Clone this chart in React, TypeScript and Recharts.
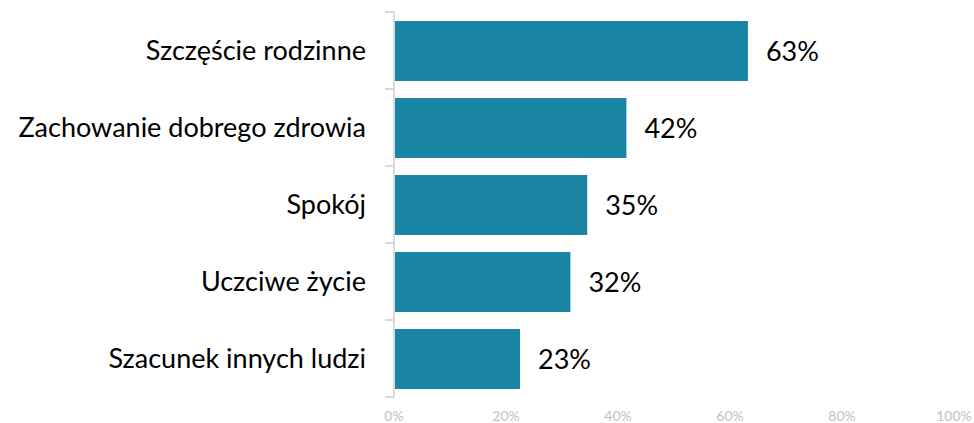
import React from 'react';
import { BarChart, Bar, XAxis, YAxis, LabelList } from 'recharts';

const categories = [
  'Szczęście rodzinne',
  'Zachowanie dobrego zdrowia',
  'Spokój',
  'Uczciwe życie',
  'Szacunek innych ludzi',
];
const values = [63.2, 41.5, 34.5, 31.5, 22.5];
const xTicks = [0, 20, 40, 60, 80, 100];

const data = categories.map((name, i) => ({ name, value: values[i] }));

const FONT = 'Lato, "Open Sans", sans-serif';
const LABEL_GAP = 28;
const TICK_LEN = 9;

function CategoryTick(props: any) {
  const { x, y, payload, index, visibleTicksCount } = props;
  const half = typeof payload?.offset === 'number' && payload.offset > 0 ? payload.offset : 38.5;
  const axisX = x + LABEL_GAP;
  const isLast = index === visibleTicksCount - 1;
  return (
    <g>
      <line x1={axisX - TICK_LEN} x2={axisX} y1={y - half} y2={y - half} stroke="#d9d9d9" strokeWidth={2} />
      {isLast && (
        <line x1={axisX - TICK_LEN} x2={axisX} y1={y + half} y2={y + half} stroke="#d9d9d9" strokeWidth={2} />
      )}
      <text
        x={x}
        y={y}
        dy="0.355em"
        textAnchor="end"
        fill="#000000"
        fontSize={27}
        fontFamily={FONT}
      >
        {payload.value}
      </text>
    </g>
  );
}

export default function App() {
  return (
    <div style={{ position: 'absolute', left: 0, top: 0, width: 974, height: 423 }}>
      <BarChart
        width={974}
        height={423}
        data={data}
        layout="vertical"
        margin={{ top: 12, right: 20, bottom: 0, left: 0 }}
      >
        <YAxis
          type="category"
          dataKey="name"
          width={394}
          axisLine={{ stroke: '#d9d9d9', strokeWidth: 2 }}
          tickLine={false}
          tickSize={0}
          tickMargin={LABEL_GAP}
          interval={0}
          tick={<CategoryTick />}
        />
        <XAxis
          type="number"
          domain={[0, 100]}
          ticks={xTicks}
          tickFormatter={(v) => `${v}%`}
          axisLine={false}
          tickLine={false}
          tickSize={0}
          tickMargin={14}
          height={26}
          interval={0}
          tick={{ fill: '#bfbfbf', fontSize: 14, fontFamily: FONT }}
        />
        <Bar dataKey="value" fill="#1984a4" barSize={60} isAnimationActive={false}>
          <LabelList
            dataKey="value"
            position="right"
            offset={18}
            formatter={(v: number) => `${Math.round(v)}%`}
            style={{ fill: '#000000', fontSize: 27, fontFamily: FONT }}
          />
        </Bar>
      </BarChart>
    </div>
  );
}
